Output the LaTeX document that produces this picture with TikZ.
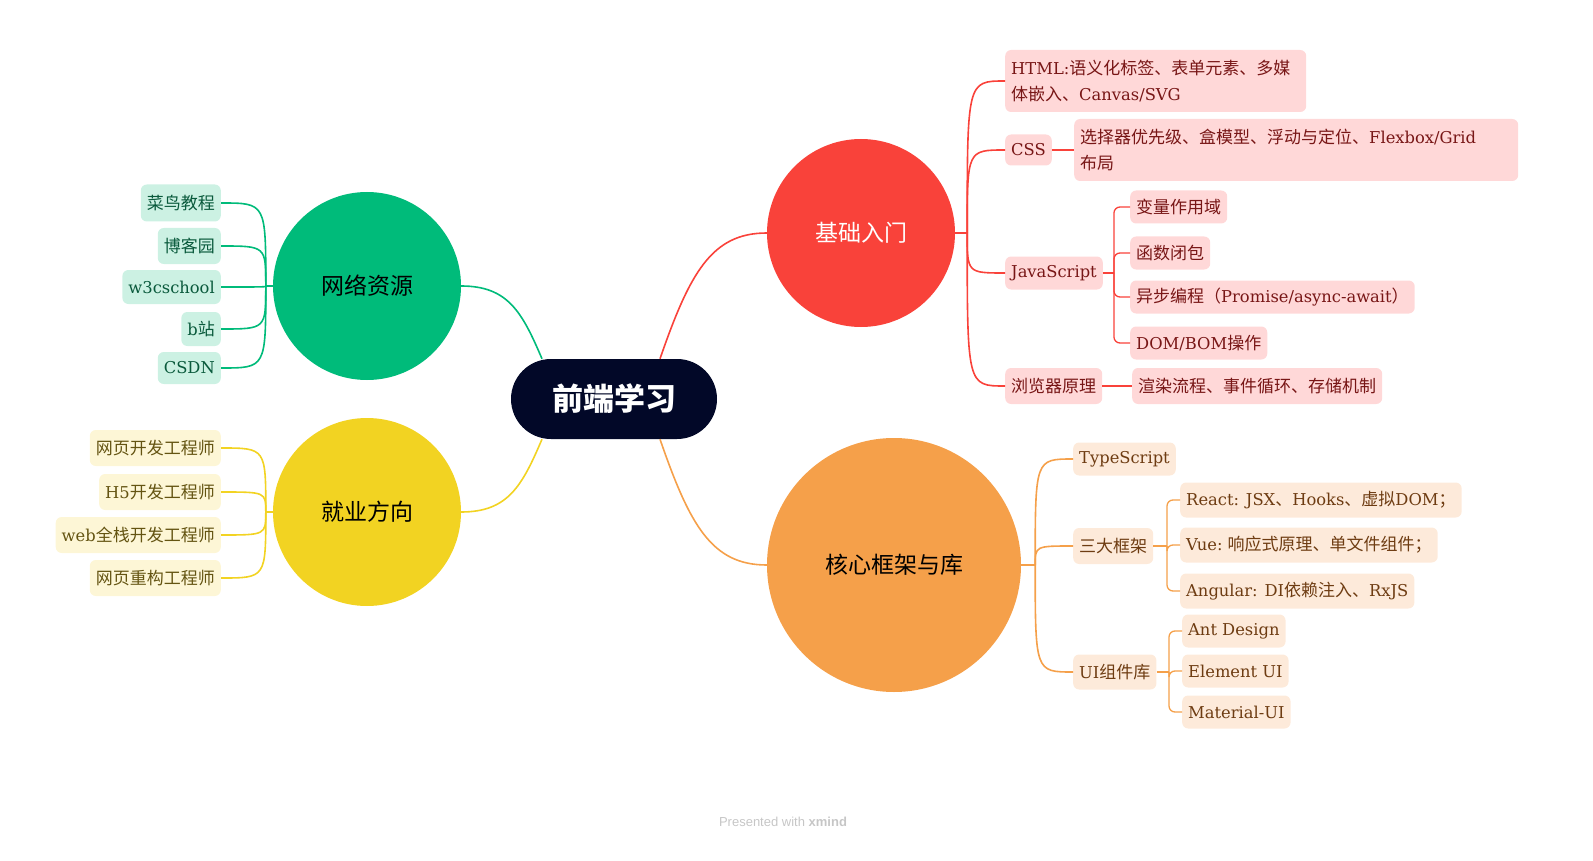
\documentclass[tikz,border=0pt]{standalone}
\usepackage{fontspec}
\setmainfont{Noto Sans CJK SC}
\newfontfamily\latfont[Scale=0.96]{DejaVu Serif}
\newfontfamily\footfont{Liberation Sans}
\newcommand\latn[1]{{\latfont #1}}
\usetikzlibrary{positioning,calc}

\definecolor{rootc}{RGB}{2,8,40}
\definecolor{redc}{RGB}{249,66,58}
\definecolor{orangec}{RGB}{245,160,74}
\definecolor{greenc}{RGB}{0,187,122}
\definecolor{yellowc}{RGB}{242,211,34}
\definecolor{redfill}{RGB}{255,216,216}
\definecolor{redtext}{RGB}{120,22,22}
\definecolor{orangefill}{RGB}{253,234,218}
\definecolor{orangetext}{RGB}{110,60,18}
\definecolor{greenfill}{RGB}{204,241,227}
\definecolor{greentext}{RGB}{10,90,60}
\definecolor{yellowfill}{RGB}{253,246,214}
\definecolor{yellowtext}{RGB}{100,84,18}

\begin{document}
\begin{tikzpicture}[x=1pt,y=-1pt,
  leaf/.style={rounded corners=6pt, inner xsep=6pt, inner ysep=0pt, minimum height=33pt,
    font=\fontsize{17}{26}\selectfont, align=left},
  redleaf/.style={leaf, fill=redfill, text=redtext},
  orangeleaf/.style={leaf, fill=orangefill, text=orangetext},
  greenleaf/.style={leaf, fill=greenfill, text=greentext},
  yellowleaf/.style={leaf, fill=yellowfill, text=yellowtext},
  topic/.style={circle, minimum size=188pt, inner sep=0pt, font=\fontsize{23}{28}\selectfont},
  link/.style={line width=1.6pt},
  twig/.style={line width=1.3pt, rounded corners=6pt}]
  \useasboundingbox (0,0) rectangle (1593,861);

  % Root
  \node[fill=rootc, text=white, rounded corners=40pt, minimum width=206pt, minimum height=80pt,
    font=\fontsize{31}{35}\selectfont\bfseries] (root) at (614,399) {前端学习};

  % Main topics
  \node[topic, fill=redc, text=white] (basic) at (861,233) {基础入门};
  \node[topic, fill=orangec, minimum size=254pt] (core) at (894,565) {核心框架与库};
  \node[topic, fill=greenc] (web) at (367,286) {网络资源};
  \node[topic, fill=yellowc] (job) at (367,512) {就业方向};

  % Root to topics
  \coordinate (rNE) at ([xshift=46pt]root.north);
  \coordinate (rSE) at ([xshift=46pt]root.south);
  \coordinate (rNW) at ([xshift=-72pt]root.north);
  \coordinate (rSW) at ([xshift=-72pt]root.south);
  \draw[link, redc] (rNE) .. controls (690,272) and (712,233) .. (basic.west);
  \draw[link, orangec] (rSE) .. controls (690,526) and (712,565) .. (core.west);
  \draw[link, greenc] (rNW) .. controls (522,312) and (508,286) .. (web.east);
  \draw[link, yellowc] (rSW) .. controls (522,486) and (508,512) .. (job.east);

  % Basic branch
  \node[redleaf, anchor=west, text width=289pt, minimum height=62pt] (html) at (1005,81) {\latn{HTML:}语义化标签、表单元素、多媒\\体嵌入、\latn{Canvas/SVG}};
  \node[redleaf, anchor=west, minimum height=31pt] (css) at (1005,150) {\latn{CSS}};
  \node[redleaf, anchor=west, minimum height=62pt, text width=432pt] (cssleaf) at (1074,150) {选择器优先级、盒模型、浮动与定位、\latn{Flexbox/Grid}\\布局};
  \node[redleaf, anchor=west] (js) at (1005,273) {\latn{JavaScript}};
  \node[redleaf, anchor=west] (scope) at (1130,207) {变量作用域};
  \node[redleaf, anchor=west] (closure) at (1130,253) {函数闭包};
  \node[redleaf, anchor=west] (async) at (1130,297) {异步编程（\latn{Promise/async-await}）};
  \node[redleaf, anchor=west] (dom) at (1130,343) {\latn{DOM/BOM}操作};
  \node[redleaf, anchor=west, minimum height=36pt] (browser) at (1005,386) {浏览器原理};
  \node[redleaf, anchor=west, minimum height=36pt] (render) at (1132,386) {渲染流程、事件循环、存储机制};

  \coordinate (bj) at ([xshift=12pt]basic.east);
  \draw[link, redc] (basic.east) -- (bj);
  \foreach \c in {html,css,js,browser}
    \draw[link, redc] (bj) .. controls (bj |- \c.west) .. (\c.west);
  \draw[link, redc] (css.east) -- (cssleaf.west);
  \draw[link, redc] (browser.east) -- (render.west);
  \coordinate (jsj) at ([xshift=11pt]js.east);
  \draw[link, redc] (js.east) -- (jsj);
  \foreach \c in {scope,closure,async,dom}
    \draw[twig, redc] (jsj) |- (\c.west);

  % Core branch
  \node[orangeleaf, anchor=west] (ts) at (1073,459) {\latn{TypeScript}};
  \node[orangeleaf, anchor=west, minimum height=36pt] (frame) at (1073,546) {三大框架};
  \node[orangeleaf, anchor=west, minimum height=35pt] (ui) at (1073,672) {\latn{UI}组件库};
  \node[orangeleaf, anchor=west, minimum height=35pt] (react) at (1180,500) {\latn{React: JSX}、\latn{Hooks}、虚拟\latn{DOM}；};
  \node[orangeleaf, anchor=west, minimum height=35pt] (vue) at (1180,545) {\latn{Vue:} 响应式原理、单文件组件；};
  \node[orangeleaf, anchor=west, minimum height=35pt] (angular) at (1180,591) {\latn{Angular: DI}依赖注入、\latn{RxJS}};
  \node[orangeleaf, anchor=west] (antd) at (1182,631) {\latn{Ant Design}};
  \node[orangeleaf, anchor=west] (element) at (1182,671) {\latn{Element UI}};
  \node[orangeleaf, anchor=west] (material) at (1182,712) {\latn{Material-UI}};

  \coordinate (cj) at ([xshift=14pt]core.east);
  \draw[link, orangec] (core.east) -- (cj);
  \foreach \c in {ts,frame,ui}
    \draw[link, orangec] (cj) .. controls (cj |- \c.west) .. (\c.west);
  \coordinate (fj) at (1167,546);
  \draw[link, orangec] (frame.east) -- (fj);
  \foreach \c in {react,vue,angular}
    \draw[twig, orangec] (fj) |- (\c.west);
  \coordinate (uj) at (1169,672);
  \draw[link, orangec] (ui.east) -- (uj);
  \foreach \c in {antd,element,material}
    \draw[twig, orangec] (uj) |- (\c.west);

  % Web branch
  \node[greenleaf, anchor=east, minimum height=37pt] (runoob) at (221,203) {菜鸟教程};
  \node[greenleaf, anchor=east, minimum height=36pt] (cnblogs) at (221,246) {博客园};
  \node[greenleaf, anchor=east, minimum height=34pt] (w3c) at (221,287) {\latn{w3cschool}};
  \node[greenleaf, anchor=east, minimum height=34pt] (bili) at (221,329) {\latn{b}站};
  \node[greenleaf, anchor=east, minimum height=32pt] (csdn) at (221,368) {\latn{CSDN}};

  \coordinate (wj) at ([xshift=-7pt]web.west);
  \draw[link, greenc] (web.west) -- (wj);
  \foreach \c in {runoob,cnblogs,w3c,bili,csdn}
    \draw[link, greenc] (wj) .. controls (wj |- \c.east) .. (\c.east);

  % Job branch
  \node[yellowleaf, anchor=east, minimum height=36pt] (webdev) at (221,448) {网页开发工程师};
  \node[yellowleaf, anchor=east, minimum height=36pt] (hfive) at (221,492) {\latn{H5}开发工程师};
  \node[yellowleaf, anchor=east, minimum height=36pt] (full) at (221,535) {\latn{web}全栈开发工程师};
  \node[yellowleaf, anchor=east, minimum height=36pt] (rebuild) at (221,578) {网页重构工程师};

  \coordinate (jj) at ([xshift=-7pt]job.west);
  \draw[link, yellowc] (job.west) -- (jj);
  \foreach \c in {webdev,hfive,full,rebuild}
    \draw[link, yellowc] (jj) .. controls (jj |- \c.east) .. (\c.east);

  % Footer
  \node[text=gray!45, font=\footfont\fontsize{13}{15}\selectfont] (foot) at (783,822) {Presented with \textbf{xmind}};
\end{tikzpicture}
\end{document}
